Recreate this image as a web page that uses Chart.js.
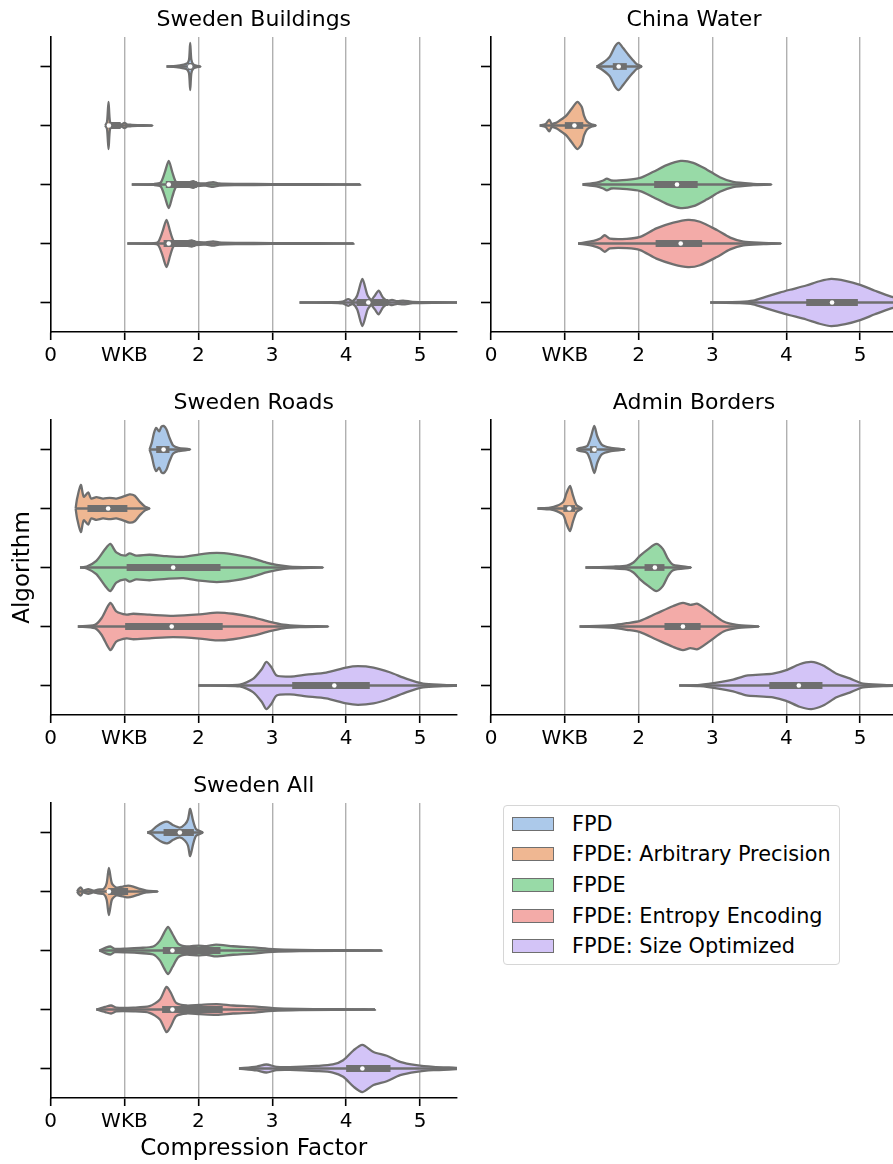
<!DOCTYPE html>
<html>
<head>
<meta charset="utf-8">
<script src="https://cdn.jsdelivr.net/npm/chart.js@4"></script>
<style>
  html, body { margin: 0; padding: 0; background: #fff; overflow: hidden; }
  #page { position: relative; width: 893px; height: 1164px; overflow: hidden; }
  canvas { position: absolute; }
  #legend {
    position: absolute; left: 503px; top: 805px; width: 337px; height: 160px;
    box-sizing: border-box; border: 1.3px solid #d6d6d6; border-radius: 4px;
    font-family: 'DejaVu Sans'; font-size: 20.8px; color: #000;
  }
  .row { position: absolute; left: 8px; height: 30px; display: flex; align-items: center; white-space: nowrap; }
  .patch { width: 40px; height: 12px; border: 1px solid #6f6f6f; margin-right: 18px; }
</style>
</head>
<body>
<div id="page">
  <canvas id="c0"></canvas>
  <canvas id="c1"></canvas>
  <canvas id="c2"></canvas>
  <canvas id="c3"></canvas>
  <canvas id="c4"></canvas>
  <div id="legend"></div>
</div>
<script>
const panelTitles = ['Sweden Buildings', 'China Water', 'Sweden Roads', 'Admin Borders', 'Sweden All'];
const algorithms = ['FPD', 'FPDE: Arbitrary Precision', 'FPDE', 'FPDE: Entropy Encoding', 'FPDE: Size Optimized'];
const xTickValues = [0, 1, 2, 3, 4, 5];
const xTickLabels = ['0', 'WKB', '2', '3', '4', '5'];

// violin outlines: [compression factor, relative density 0..1], one list per algorithm
// stats: [whisker low, q1, median, q3, whisker high]
const buildingsShape = [
  [[1.57,0],[1.70,0.03],[1.80,0.08],[1.85,0.13],[1.875,0.3],[1.89,1.0],[1.905,0.3],[1.93,0.1],[1.97,0.04],[2.03,0]],
  [[0.74,0],[0.765,0.15],[0.785,1.0],[0.805,0.15],[0.84,0.08],[0.9,0.07],[0.96,0.05],[1.0,0.11],[1.04,0.04],[1.1,0.03],[1.25,0.01],[1.38,0]],
  [[1.10,0],[1.40,0.02],[1.49,0.08],[1.545,0.5],[1.60,1.0],[1.65,0.5],[1.70,0.1],[1.80,0.06],[1.88,0.1],[1.93,0.14],[1.98,0.07],[2.1,0.05],[2.2,0.1],[2.28,0.05],[2.5,0.03],[3.0,0.015],[3.6,0.01],[4.19,0]],
  [[1.04,0],[1.40,0.02],[1.46,0.08],[1.515,0.5],[1.57,1.0],[1.62,0.5],[1.67,0.1],[1.78,0.06],[1.86,0.1],[1.91,0.13],[1.96,0.07],[2.1,0.05],[2.2,0.09],[2.28,0.05],[2.5,0.03],[3.0,0.015],[3.6,0.01],[4.10,0]],
  [[3.37,0],[3.8,0.01],[3.95,0.04],[4.03,0.14],[4.09,0.06],[4.15,0.3],[4.22,1.0],[4.29,0.3],[4.34,0.12],[4.39,0.3],[4.44,0.5],[4.5,0.2],[4.56,0.07],[4.62,0.11],[4.69,0.06],[4.77,0.08],[4.9,0.03],[5.2,0.01],[5.6,0]]
];
const buildingsStats = [[1.57,1.86,1.89,1.92,2.03],[0.74,0.785,0.79,0.95,1.38],[1.10,1.56,1.60,1.98,4.19],[1.04,1.53,1.60,1.96,4.10],[3.37,4.14,4.30,4.57,5.6]];

const waterShape = [
  [[1.43,0],[1.52,0.17],[1.61,0.42],[1.68,0.85],[1.73,1.0],[1.79,0.78],[1.86,0.5],[1.92,0.28],[1.97,0.11],[2.04,0]],
  [[0.66,0],[0.74,0.06],[0.79,0.25],[0.82,0.08],[0.88,0.11],[0.93,0.21],[1.02,0.42],[1.09,0.7],[1.17,1.0],[1.23,0.78],[1.26,0.42],[1.30,0.17],[1.36,0.05],[1.42,0]],
  [[1.24,0],[1.43,0.08],[1.52,0.17],[1.57,0.25],[1.63,0.17],[1.84,0.2],[2.02,0.28],[2.2,0.54],[2.38,0.82],[2.57,1.0],[2.74,0.92],[2.92,0.64],[3.1,0.31],[3.28,0.11],[3.55,0.03],[3.80,0]],
  [[1.18,0],[1.39,0.11],[1.48,0.21],[1.54,0.35],[1.61,0.21],[1.84,0.2],[2.02,0.28],[2.24,0.64],[2.47,0.88],[2.67,1.0],[2.83,0.92],[3.06,0.57],[3.24,0.25],[3.42,0.08],[3.69,0.03],[3.93,0]],
  [[2.97,0],[3.37,0.03],[3.55,0.08],[3.73,0.25],[3.91,0.42],[4.05,0.54],[4.27,0.72],[4.45,0.9],[4.61,1.0],[4.80,0.92],[5.0,0.75],[5.2,0.5],[5.42,0.25],[5.7,0.06],[5.9,0]]
];
const waterStats = [[1.43,1.65,1.73,1.84,2.04],[0.66,1.0,1.13,1.25,1.42],[1.24,2.21,2.52,2.80,3.80],[1.18,2.23,2.57,2.86,3.93],[2.97,4.27,4.62,4.97,5.9]];

const roadsShape = [
  [[1.34,0],[1.37,0.28],[1.40,0.7],[1.43,0.92],[1.47,0.77],[1.50,0.96],[1.53,1.0],[1.57,0.85],[1.61,0.5],[1.66,0.17],[1.73,0.07],[1.89,0]],
  [[0.34,0],[0.36,0.42],[0.41,1.0],[0.45,0.5],[0.51,0.68],[0.55,0.42],[0.62,0.48],[0.71,0.42],[0.80,0.45],[0.89,0.42],[0.98,0.5],[1.07,0.6],[1.14,0.54],[1.21,0.28],[1.28,0.08],[1.34,0]],
  [[0.40,0],[0.49,0.04],[0.62,0.28],[0.74,0.78],[0.81,1.0],[0.89,0.64],[1.01,0.5],[1.07,0.6],[1.16,0.5],[1.34,0.54],[1.57,0.48],[1.80,0.45],[2.02,0.56],[2.25,0.62],[2.47,0.56],[2.70,0.42],[2.92,0.21],[3.06,0.11],[3.24,0.04],[3.69,0]],
  [[0.37,0],[0.60,0.07],[0.69,0.35],[0.81,1.0],[0.89,0.64],[1.03,0.5],[1.12,0.54],[1.34,0.5],[1.66,0.45],[2.02,0.51],[2.25,0.59],[2.47,0.54],[2.74,0.39],[2.97,0.2],[3.15,0.08],[3.37,0.03],[3.76,0]],
  [[2.0,0],[2.56,0.04],[2.74,0.28],[2.86,0.7],[2.92,1.0],[2.99,0.77],[3.06,0.42],[3.24,0.38],[3.46,0.46],[3.73,0.55],[4.0,0.76],[4.16,0.82],[4.37,0.76],[4.59,0.56],[4.82,0.28],[5.04,0.08],[5.31,0.03],[5.6,0]]
];
const roadsStats = [[1.34,1.43,1.53,1.61,1.89],[0.34,0.50,0.78,1.04,1.34],[0.40,1.03,1.66,2.30,3.69],[0.37,1.01,1.64,2.33,3.76],[2.0,3.27,3.84,4.32,5.6]];

const bordersShape = [
  [[1.16,0],[1.20,0.06],[1.30,0.14],[1.35,0.5],[1.40,1.0],[1.44,0.56],[1.50,0.21],[1.61,0.08],[1.81,0]],
  [[0.63,0],[0.80,0.04],[0.89,0.11],[0.98,0.28],[1.02,0.63],[1.07,0.96],[1.11,0.56],[1.16,0.14],[1.23,0]],
  [[1.28,0],[1.66,0.04],[1.84,0.08],[1.93,0.21],[2.02,0.5],[2.13,0.78],[2.24,1.0],[2.33,0.78],[2.40,0.35],[2.47,0.11],[2.71,0]],
  [[1.20,0],[1.66,0.06],[1.84,0.14],[2.02,0.24],[2.24,0.55],[2.47,0.87],[2.60,1.0],[2.70,0.92],[2.80,0.96],[2.96,0.63],[3.15,0.21],[3.33,0.07],[3.63,0]],
  [[2.55,0],[2.83,0.03],[3.10,0.14],[3.28,0.25],[3.46,0.42],[3.64,0.46],[3.82,0.5],[4.0,0.65],[4.18,0.9],[4.34,1.0],[4.50,0.85],[4.68,0.5],[4.86,0.3],[5.04,0.08],[5.31,0.03],[5.6,0]]
];
const bordersStats = [[1.16,1.34,1.40,1.43,1.81],[0.63,0.98,1.06,1.14,1.23],[1.28,2.08,2.22,2.35,2.71],[1.20,2.35,2.60,2.84,3.63],[2.55,3.77,4.17,4.49,5.6]];

const allShape = [
  [[1.31,0],[1.37,0.08],[1.43,0.25],[1.52,0.42],[1.59,0.45],[1.66,0.31],[1.75,0.21],[1.82,0.35],[1.86,0.56],[1.89,1.0],[1.93,0.49],[1.97,0.14],[2.06,0]],
  [[0.36,0],[0.38,0.1],[0.41,0.17],[0.44,0.04],[0.51,0.1],[0.58,0.04],[0.64,0.08],[0.72,0.11],[0.76,0.35],[0.79,1.0],[0.83,0.35],[0.89,0.17],[0.98,0.21],[1.05,0.25],[1.12,0.21],[1.21,0.11],[1.30,0.04],[1.45,0]],
  [[0.66,0],[0.74,0.11],[0.81,0.17],[0.87,0.07],[1.03,0.08],[1.21,0.11],[1.39,0.17],[1.48,0.42],[1.54,0.77],[1.59,1.0],[1.65,0.7],[1.73,0.28],[1.84,0.17],[2.0,0.21],[2.11,0.18],[2.24,0.25],[2.47,0.18],[2.74,0.13],[3.01,0.06],[3.37,0.03],[4.48,0]],
  [[0.62,0],[0.74,0.11],[0.82,0.17],[0.89,0.08],[1.12,0.08],[1.34,0.14],[1.48,0.42],[1.57,0.96],[1.63,0.7],[1.70,0.28],[1.84,0.17],[2.02,0.2],[2.25,0.23],[2.47,0.17],[2.74,0.13],[3.01,0.06],[3.37,0.03],[4.39,0]],
  [[2.55,0],[2.79,0.08],[2.92,0.17],[3.06,0.07],[3.24,0.06],[3.60,0.11],[3.82,0.17],[3.96,0.35],[4.10,0.77],[4.22,1.0],[4.37,0.7],[4.55,0.54],[4.73,0.28],[4.95,0.14],[5.18,0.07],[5.49,0.03],[5.7,0]]
];
const allStats = [[1.31,1.53,1.75,1.94,2.06],[0.36,0.78,0.79,1.05,1.45],[0.66,1.52,1.65,2.30,4.48],[0.62,1.51,1.65,2.33,4.39],[2.55,4.0,4.22,4.60,5.7]];

const colors = ['#acc9ea', '#efb792', '#98daa7', '#f3aba8', '#d3c4f7'];
const GRAY = '#6f6f6f';
const HALF = 0.4; // max half width of a violin in category units

Chart.defaults.font.family = 'DejaVu Sans';
Chart.defaults.color = '#000';

function buildDatasets(shapes, stats) {
  const sets = [];
  shapes.forEach((prof, i) => {
    const top = prof.map(([x, d]) => ({ x: x, y: i - d * HALF }));
    const bottom = prof.slice().reverse().map(([x, d]) => ({ x: x, y: i + d * HALF }));
    const [lo, q1, med, q3, hi] = stats[i];
    sets.push({
      data: top.concat(bottom.slice(1)),
      borderColor: GRAY, borderWidth: 2.3, backgroundColor: colors[i],
      fill: 'shape', pointRadius: 0, tension: 0.25, order: 3
    });
    sets.push({
      data: [{ x: lo, y: i }, { x: hi, y: i }],
      borderColor: GRAY, borderWidth: 2.3, pointRadius: 0, fill: false, order: 2
    });
    sets.push({
      data: [{ x: q1, y: i }, { x: q3, y: i }],
      borderColor: GRAY, borderWidth: 6.8, borderCapStyle: 'butt', pointRadius: 0, fill: false, order: 1
    });
    sets.push({
      data: [{ x: med, y: i }],
      showLine: false, pointRadius: 2.3, pointBackgroundColor: '#fff', pointBorderWidth: 0, order: 0
    });
  });
  return sets;
}

const panels = [
  { id: 'c0', left: 0,   top: 3,   w: 470, h: 374, yw: 50.5, xh: 45, shapes: buildingsShape, stats: buildingsStats },
  { id: 'c1', left: 441, top: 3,   w: 469, h: 374, yw: 50,   xh: 45, shapes: waterShape,     stats: waterStats },
  { id: 'c2', left: 0,   top: 386, w: 470, h: 374, yw: 50.5, xh: 45, shapes: roadsShape,     stats: roadsStats, yTitle: 'Algorithm' },
  { id: 'c3', left: 441, top: 386, w: 469, h: 374, yw: 50,   xh: 45, shapes: bordersShape,   stats: bordersStats },
  { id: 'c4', left: 0,   top: 769, w: 470, h: 395, yw: 50.5, xh: 66, shapes: allShape,       stats: allStats, xTitle: 'Compression Factor' }
];

panels.forEach((p, k) => {
  const canvas = document.getElementById(p.id);
  canvas.width = p.w;
  canvas.height = p.h;
  canvas.style.left = p.left + 'px';
  canvas.style.top = p.top + 'px';

  new Chart(canvas.getContext('2d'), {
    type: 'line',
    data: { datasets: buildDatasets(p.shapes, p.stats) },
    options: {
      responsive: false,
      animation: false,
      events: [],
      layout: { padding: { left: 0, right: 13, top: 0, bottom: 0 } },
      plugins: {
        legend: { display: false },
        tooltip: { enabled: false },
        title: {
          display: true, text: panelTitles[k], fullSize: false,
          font: { size: 22, weight: 'normal' }, color: '#000',
          padding: { top: 4, bottom: 3.6 }
        }
      },
      scales: {
        x: {
          type: 'linear', min: 0, max: 5.5,
          afterBuildTicks: s => { s.ticks = xTickValues.map(v => ({ value: v })); },
          afterFit: s => { s.height = p.xh; },
          ticks: { font: { size: 20 }, color: '#000', padding: 4, maxRotation: 0,
                   callback: (v, i) => xTickLabels[i] },
          grid: {
            color: c => (c.tick && c.tick.value === 0) ? 'rgba(0,0,0,0)' : '#b0b0b0',
            lineWidth: 1.4, tickColor: '#000', tickLength: 8, tickWidth: 1.6
          },
          border: { display: true, color: '#000', width: 1.6 },
          title: { display: !!p.xTitle, text: p.xTitle || '', font: { size: 23 }, color: '#000',
                   padding: { top: 0, bottom: 1.5 } }
        },
        y: {
          type: 'linear', min: -0.5, max: 4.5, reverse: true,
          afterBuildTicks: s => { s.ticks = algorithms.map((a, i) => ({ value: i })); },
          afterFit: s => { s.width = p.yw; },
          ticks: { padding: 0, callback: () => '' },
          grid: { drawOnChartArea: false, tickColor: '#000', tickLength: 10, tickWidth: 1.6 },
          border: { display: true, color: '#000', width: 1.6 },
          title: { display: !!p.yTitle, text: p.yTitle || '', font: { size: 23 }, color: '#000', padding: 9 }
        }
      }
    }
  });
});

// legend
const legend = document.getElementById('legend');
const rowCenters = [18, 48.3, 79, 110, 140];
algorithms.forEach((name, i) => {
  const row = document.createElement('div');
  row.className = 'row';
  row.style.top = (rowCenters[i] - 15) + 'px';
  const patch = document.createElement('span');
  patch.className = 'patch';
  patch.style.background = colors[i];
  const label = document.createElement('span');
  label.textContent = name;
  row.appendChild(patch);
  row.appendChild(label);
  legend.appendChild(row);
});
</script>
</body>
</html>
